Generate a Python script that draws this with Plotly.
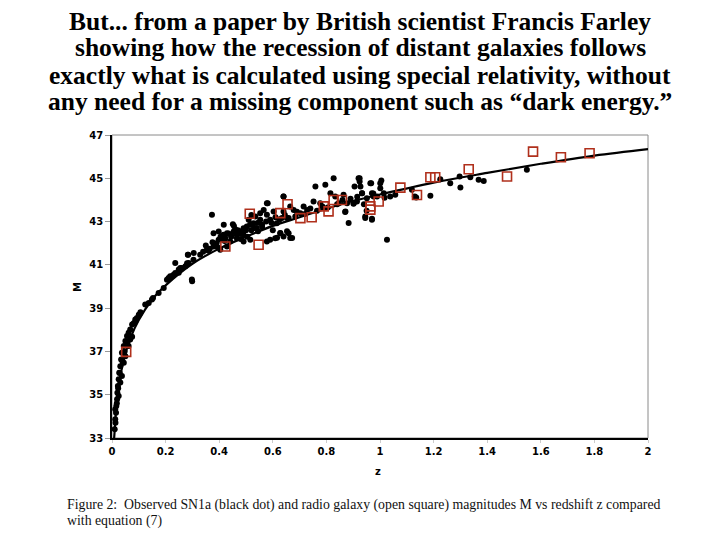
import plotly.graph_objects as go

# Black dots: SN1a (z, M)
sn_z = [0.010, 0.012, 0.015, 0.016, 0.019, 0.020, 0.022, 0.025, 0.027, 0.031, 0.034, 0.037, 0.044, 0.050,
        0.056, 0.062, 0.068, 0.075, 0.087, 0.100, 0.124, 0.149, 0.211, 0.236, 0.236, 0.286, 0.299, 0.284, 0.305,
        0.012, 0.025, 0.031, 0.037, 0.044, 0.050, 0.062, 0.075, 0.068, 0.093, 0.106, 0.137, 0.174, 0.193,
        0.224, 0.249, 0.261, 0.274, 0.013, 0.018, 0.023, 0.029, 0.040, 0.047, 0.058, 0.081, 0.087, 0.102, 0.153,
        0.218, 0.249, 0.283, 0.298,
        0.205, 0.217, 0.230, 0.255, 0.280, 0.304, 0.329, 0.354, 0.379, 0.398, 0.416, 0.429, 0.454, 0.466,
        0.479, 0.491, 0.503, 0.528, 0.553, 0.578, 0.603, 0.615, 0.628, 0.640, 0.659, 0.590, 0.578, 0.516,
        0.491, 0.429, 0.404, 0.379, 0.398, 0.423, 0.441, 0.466, 0.510, 0.535, 0.553, 0.566, 0.590, 0.373,
        0.578, 0.609, 0.340, 0.365, 0.390, 0.410, 0.445, 0.470, 0.485, 0.520, 0.540, 0.560, 0.417, 0.451,
        0.581, 0.616, 0.640, 0.665,
        0.640, 0.678, 0.703, 0.728, 0.752, 0.759, 0.796, 0.827, 0.815, 0.833, 0.864, 0.871, 0.883, 0.902,
        0.920, 0.933, 0.927, 0.964, 0.970, 0.976, 1.001, 1.001, 1.014, 1.026, 1.038, 1.057, 0.945, 0.970,
        0.877, 0.665, 0.653, 0.628, 0.653, 0.672, 0.659, 0.715, 0.777, 0.846, 0.914, 0.951, 0.989, 0.634,
        0.640, 0.684, 0.870, 0.905, 0.924, 0.924, 0.967, 1.005, 0.933, 0.901, 0.940, 0.950, 0.975, 0.945,
        0.970, 1.017,
        1.119, 1.130, 1.135, 1.188, 1.225, 1.262, 1.297, 1.300, 1.337, 1.368, 1.387, 1.548,
        0.350, 0.360, 0.375, 0.385, 0.395, 0.405, 0.420, 0.435, 0.445, 0.460, 0.475, 0.490, 0.500, 0.515,
        0.530, 0.545, 0.560, 0.575, 0.595, 0.610, 0.625, 0.645, 0.690, 0.720, 0.740, 0.765, 0.785, 0.805,
        0.840, 0.860, 0.890, 0.915, 0.480, 0.505, 0.545, 0.520, 0.455, 0.600]
sn_m = [33.41, 33.87, 34.17, 34.48, 34.79, 35.09, 35.40, 35.71, 36.02, 36.32, 36.63, 36.94, 37.25, 37.48,
        37.71, 37.86, 38.01, 38.24, 38.47, 38.70, 39.17, 39.40, 40.39, 40.62, 41.09, 41.09, 40.24, 41.47, 41.55,
        34.33, 34.94, 35.56, 35.86, 36.48, 36.78, 37.25, 37.68, 37.55, 38.55, 38.81, 39.24, 39.70, 39.93,
        40.47, 40.78, 40.86, 40.93, 33.70, 34.60, 35.30, 36.00, 36.50, 37.00, 37.45, 38.30, 38.37, 38.70, 39.47,
        40.40, 40.63, 41.47, 40.32,
        40.31, 40.47, 40.54, 40.85, 41.08, 41.24, 41.47, 41.70, 41.85, 42.16, 42.39, 42.46, 42.54, 42.39,
        42.46, 42.69, 42.77, 42.92, 43.08, 43.31, 43.46, 42.92, 42.46, 42.31, 42.46, 42.16, 42.08, 42.16,
        42.08, 41.85, 41.70, 42.46, 42.54, 42.23, 42.08, 42.23, 43.08, 43.23, 43.39, 43.54, 43.08, 43.31,
        43.85, 42.23, 41.60, 41.75, 42.00, 42.20, 42.30, 42.60, 42.50, 42.60, 42.70, 42.85, 42.85, 42.88,
        43.85, 42.25, 44.16, 42.24,
        44.16, 43.54, 43.39, 43.54, 43.93, 44.62, 44.70, 45.00, 44.31, 44.16, 44.24, 43.47, 42.93, 43.85,
        45.00, 44.31, 44.62, 44.77, 44.31, 44.16, 44.77, 44.54, 44.31, 42.16, 44.16, 44.24, 43.16, 43.08,
        43.85, 43.70, 43.16, 42.47, 42.55, 42.24, 43.16, 43.70, 43.85, 43.85, 43.93, 44.08, 44.16, 43.16,
        43.47, 43.24, 43.44, 44.62, 45.00, 44.85, 44.77, 44.90, 44.31, 43.82, 43.80, 43.50, 44.30, 43.24,
        43.13, 44.10,
        44.47, 44.16, 44.11, 44.19, 44.96, 44.77, 45.08, 44.57, 45.05, 44.93, 44.88, 45.39,
        41.90, 41.65, 42.05, 41.95, 41.80, 42.30, 42.10, 42.45, 42.35, 42.65, 42.55, 42.40, 42.60, 42.85,
        42.70, 42.95, 42.75, 43.00, 42.95, 43.20, 43.10, 43.30, 43.45, 43.35, 43.60, 43.50, 43.70, 43.65,
        43.80, 44.00, 44.05, 44.15, 42.20, 42.30, 42.55, 43.30, 42.80, 42.60]

# Open squares: radio galaxies (z, M)
rg_z = [0.053, 0.423, 0.514, 0.547, 0.628, 0.655, 0.703, 0.745, 0.790, 0.808, 0.827, 0.858, 0.964,
        0.964, 0.995, 1.076, 1.138, 1.188, 1.206, 1.331, 1.474, 1.571, 1.675, 1.782]
rg_m = [36.98, 41.85, 43.36, 41.93, 43.39, 43.80, 43.16, 43.20, 43.70, 43.47, 44.00, 44.00, 43.70,
        43.55, 43.93, 44.57, 44.23, 45.05, 45.05, 45.42, 45.08, 46.23, 45.97, 46.16]

# Equation (7) curve
curve_z = [0.008, 0.01, 0.015, 0.02, 0.03, 0.04, 0.05, 0.07, 0.1, 0.15, 0.2, 0.3, 0.4, 0.5, 0.6, 0.7,
           0.8, 0.9, 1.0, 1.2, 1.4, 1.6, 1.8, 2.0]
curve_m = [33.0, 33.35, 34.25, 34.9, 35.8, 36.4, 36.9, 37.65, 38.45, 39.4, 40.05, 41.05, 41.75, 42.3,
           42.8, 43.2, 43.6, 43.95, 44.25, 44.8, 45.25, 45.67, 46.05, 46.35]

x_ticks = [0, 0.2, 0.4, 0.6, 0.8, 1, 1.2, 1.4, 1.6, 1.8, 2]
x_labels = ["0", "0.2", "0.4", "0.6", "0.8", "1", "1.2", "1.4", "1.6", "1.8", "2"]
y_ticks = [33, 35, 37, 39, 41, 43, 45, 47]

title_lines = [
    "But... from a paper by British scientist Francis Farley",
    "showing how the recession of distant galaxies follows",
    "exactly what is calculated using special relativity, without",
    "any need for a missing component such as \u201cdark energy.\u201d",
]
caption_lines = [
    "Figure 2:  Observed SN1a (black dot) and radio galaxy (open square) magnitudes M vs redshift z compared",
    "with equation (7)",
]

# The page body adds an 8px offset; positions below are target screen pixels
OFF = 8
W, H = 720, 540
L, T = 112 - OFF, 135 - OFF
pw, ph = 536, 303
R = W - L - pw
B = H - T - ph

fig = go.Figure()
fig.add_trace(go.Scatter(x=sn_z, y=sn_m, mode="markers",
                         marker=dict(color="black", size=6, line=dict(width=0)),
                         showlegend=False))
fig.add_trace(go.Scatter(x=curve_z, y=curve_m, mode="lines",
                         line=dict(color="black", width=2.2, shape="spline"),
                         showlegend=False))
fig.add_trace(go.Scatter(x=rg_z, y=rg_m, mode="markers",
                         marker=dict(symbol="square-open", color="#b0301c", size=9,
                                     line=dict(width=1.6, color="#b0301c")),
                         showlegend=False))

fig.add_shape(type="rect", xref="paper", yref="paper", x0=0, y0=0, x1=1, y1=1,
              line=dict(color="#8a8a8a", width=1), layer="below")

tick_font = dict(family="DejaVu Sans", size=10, color="black", weight="bold")
fig.update_xaxes(range=[0, 2], tickvals=x_ticks, ticktext=x_labels, showgrid=False, zeroline=False,
                 showline=True, linecolor="black", linewidth=1.5, ticks="outside", ticklen=3,
                 tickcolor="#cccccc", tickfont=tick_font)
fig.update_yaxes(range=[33, 47], tickvals=y_ticks, showgrid=False, zeroline=False,
                 showline=True, linecolor="black", linewidth=1.5, ticks="outside", ticklen=5,
                 tickcolor="#999999", tickfont=tick_font)


def px(x, y):
    return (x - OFF - L) / pw, (H - B - (y - OFF)) / ph


annotations = []
for i, line in enumerate(title_lines):
    x, y = px(360, 21 + 27 * i)
    annotations.append(dict(text="<b>" + line + "</b>", x=x, y=y, xref="paper", yref="paper",
                            showarrow=False, xanchor="center", yanchor="middle",
                            font=dict(family="Liberation Serif", size=25.5, color="black")))
for i, line in enumerate(caption_lines):
    x, y = px(65, 505 + 16 * i)
    annotations.append(dict(text=line, x=x, y=y, xref="paper", yref="paper", showarrow=False,
                            xanchor="left", yanchor="middle",
                            font=dict(family="Liberation Serif", size=13.8, color="#111")))
x, y = px(77, 287)
annotations.append(dict(text="<b>M</b>", x=x, y=y, xref="paper", yref="paper", showarrow=False,
                        textangle=-90, xanchor="center", yanchor="middle",
                        font=dict(family="DejaVu Sans", size=10, color="black")))
x, y = px(378, 471)
annotations.append(dict(text="<b>z</b>", x=x, y=y, xref="paper", yref="paper", showarrow=False,
                        xanchor="center", yanchor="middle",
                        font=dict(family="DejaVu Sans", size=10, color="black")))

fig.update_layout(width=W, height=H, margin=dict(l=L, r=R, t=T, b=B),
                  paper_bgcolor="white", plot_bgcolor="white", annotations=annotations)
fig.write_html("out.html")
